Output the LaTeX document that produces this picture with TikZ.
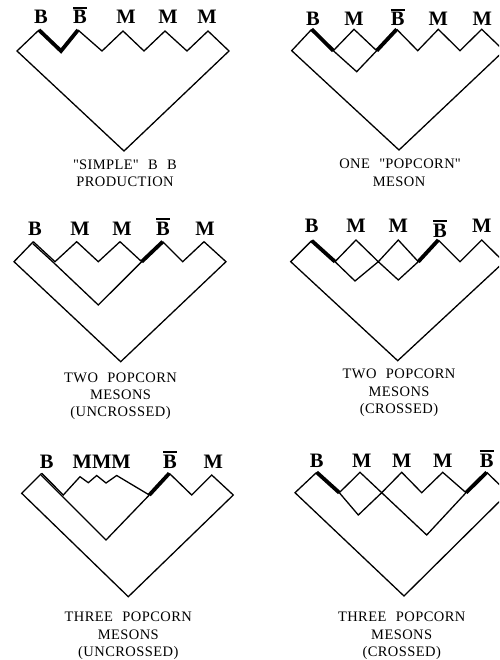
\documentclass[tikz,border=0pt]{standalone}
\usepackage{fontspec}
\setmainfont{Liberation Serif}
% B with an overbar (antibaryon)
\newcommand\barB{\vbox{\hrule height 1.7pt\kern 1.6pt\hbox{B}}}
% wide word gap used in the captions
\newcommand\wsp{\hspace{0.65em}}
% straight double quote, set as a glyph so no ligature mapping applies
\newcommand\sq{\XeTeXglyph\XeTeXglyphindex "quotedbl"\relax}
\begin{document}
\begin{tikzpicture}[x=1pt,y=-1pt,
  quark/.style={line width=1.3pt,line join=miter},
  baryon/.style={line width=3.8pt,line join=miter},
  hadron/.style={font=\fontsize{20.5}{20}\selectfont\bfseries,inner sep=0pt,anchor=base},
  caption/.style={font=\fontsize{14.5}{17}\selectfont\addfontfeature{LetterSpace=3},inner sep=0pt,anchor=base}]
\useasboundingbox (0,0) rectangle (499,660);
\begin{scope}
\clip (0,0) rectangle (499,660);

% ---------- "simple" B Bbar production ----------
\coordinate (p1L) at (17,51);
\coordinate (p1P1) at (39,30);
\coordinate (p1V1) at (61,51);
\coordinate (p1P2) at (78,30);
\coordinate (p1V2) at (102,51);
\coordinate (p1P3) at (123,31);
\coordinate (p1V3) at (144,51);
\coordinate (p1P4) at (165,31);
\coordinate (p1V4) at (187,51);
\coordinate (p1P5) at (208,31);
\coordinate (p1R) at (229,51);
\coordinate (p1Bot) at (124,151);
\draw[quark] (p1P2) -- (p1V2) -- (p1P3) -- (p1V3) -- (p1P4) -- (p1V4) -- (p1P5) -- (p1R) -- (p1Bot) -- (p1L) -- (p1P1);
\draw[baryon] (p1P1) -- (p1V1) -- (p1P2);
\node[hadron] (p1b) at (41,24) {B};
\node[hadron] (p1bb) at (80,24) {\barB};
\node[hadron] (p1m1) at (126,24) {M};
\node[hadron] (p1m2) at (168,24) {M};
\node[hadron] (p1m3) at (207,24) {M};
\node[caption] (c1a) at (125,169.5) {\sq SIMPLE\sq\wsp B\wsp B};
\node[caption] (c1b) at (125,186) {PRODUCTION};

% ---------- one popcorn meson ----------
\coordinate (p2L) at (291.7,50.7);
\coordinate (p2P1) at (311.7,29.3);
\coordinate (p2A) at (333.3,50.7);
\coordinate (p2P2) at (354,29.3);
\coordinate (p2C) at (376.7,50.7);
\coordinate (p2D) at (356.7,71.7);
\coordinate (p2P3) at (396.7,29.3);
\coordinate (p2V3) at (417.7,50.7);
\coordinate (p2P4) at (438.3,29.3);
\coordinate (p2V4) at (460,50.7);
\coordinate (p2P5) at (481.7,29.3);
\coordinate (p2R) at (504,50.7);
\coordinate (p2Bot) at (399,150);
\draw[quark] (p2P1) -- (p2L) -- (p2Bot) -- (p2R) -- (p2P5) -- (p2V4) -- (p2P4) -- (p2V3) -- (p2P3);
\draw[quark] (p2A) -- (p2P2) -- (p2C) -- (p2D) -- cycle;
\draw[baryon] (p2P1) -- (p2A);
\draw[baryon] (p2C) -- (p2P3);
\node[hadron] (p2b) at (313,26) {B};
\node[hadron] (p2m1) at (354,26) {M};
\node[hadron] (p2bb) at (397.7,26) {\barB};
\node[hadron] (p2m2) at (438.3,26) {M};
\node[hadron] (p2m3) at (482.3,26) {M};
\node[caption] (c2a) at (400,168.5) {ONE\wsp\sq POPCORN\sq};
\node[caption] (c2b) at (399,186.5) {MESON};

% ---------- two popcorn mesons, uncrossed ----------
\coordinate (p3L) at (14,261.7);
\coordinate (p3P1) at (33.3,241.7);
\coordinate (p3V1) at (55,261.7);
\coordinate (p3P2) at (76.7,241.7);
\coordinate (p3V2) at (98.3,261.7);
\coordinate (p3P3) at (120,241.7);
\coordinate (p3V3) at (141.7,261.7);
\coordinate (p3P4) at (162.7,241.7);
\coordinate (p3V4) at (182.7,261.7);
\coordinate (p3P5) at (204,241.7);
\coordinate (p3R) at (226,261.7);
\coordinate (p3IB) at (98.3,305);
\coordinate (p3Bot) at (120.7,361.7);
\draw[quark] (p3P1) -- (p3L) -- (p3Bot) -- (p3R) -- (p3P5) -- (p3V4) -- (p3P4);
\draw[quark] (p3P1) -- (p3V1) -- (p3P2) -- (p3V2) -- (p3P3) -- (p3V3);
\draw[quark] ([shift={(-0.6,1.8)}]p3P1) -- ([shift={(-1,1.3)}]p3V1) -- (p3IB) -- (p3V3);
\draw[baryon] (p3V3) -- (p3P4);
\node[hadron] (p3b) at (35,235) {B};
\node[hadron] (p3m1) at (80,235) {M};
\node[hadron] (p3m2) at (122,235) {M};
\node[hadron] (p3bb) at (163,235) {\barB};
\node[hadron] (p3m3) at (205,235) {M};
\node[caption] (c3a) at (120.5,382) {TWO\wsp POPCORN};
\node[caption] (c3b) at (120.5,399.5) {MESONS};
\node[caption] (c3c) at (120.5,416) {(UNCROSSED)};

% ---------- two popcorn mesons, crossed ----------
\coordinate (p4L) at (290.7,261.7);
\coordinate (p4P1) at (311.7,240.7);
\coordinate (p4A) at (335,261.7);
\coordinate (p4P2) at (356,240);
\coordinate (p4C) at (378.3,261.7);
\coordinate (p4D1) at (355,281);
\coordinate (p4P3) at (398.3,240);
\coordinate (p4E) at (418.3,261.7);
\coordinate (p4D2) at (398.3,280);
\coordinate (p4P4) at (438.3,240);
\coordinate (p4V4) at (460,261.7);
\coordinate (p4P5) at (481.7,240);
\coordinate (p4R) at (504,262);
\coordinate (p4Bot) at (397.7,360.7);
\draw[quark] (p4P1) -- (p4L) -- (p4Bot) -- (p4R) -- (p4P5) -- (p4V4) -- (p4P4);
\draw[quark] (p4A) -- (p4P2) -- (p4C) -- (p4P3) -- (p4E) -- (p4D2) -- (p4C) -- (p4D1) -- cycle;
\draw[baryon] (p4P1) -- (p4A);
\draw[baryon] (p4E) -- (p4P4);
\node[hadron] (p4b) at (311.7,233) {B};
\node[hadron] (p4m1) at (356,233) {M};
\node[hadron] (p4m2) at (398.3,233) {M};
\node[hadron] (p4bb) at (440,237) {\barB};
\node[hadron] (p4m3) at (481.7,233) {M};
\node[caption] (c4a) at (399,378.5) {TWO\wsp POPCORN};
\node[caption] (c4b) at (399,396) {MESONS};
\node[caption] (c4c) at (399,413) {(CROSSED)};

% ---------- three popcorn mesons, uncrossed ----------
\coordinate (p5L) at (21.7,493.3);
\coordinate (p5P1) at (41.7,473.3);
\coordinate (p5V1) at (63.3,495);
\coordinate (p5Q1) at (80,476.7);
\coordinate (p5Q2) at (88.3,482.7);
\coordinate (p5Q3) at (96.7,475.5);
\coordinate (p5Q4) at (106,483);
\coordinate (p5Q5) at (116.7,475.5);
\coordinate (p5V2) at (149.3,495);
\coordinate (p5P2) at (169.3,473.3);
\coordinate (p5V3) at (191.7,495);
\coordinate (p5P3) at (211.7,475);
\coordinate (p5R) at (233.3,495);
\coordinate (p5IB) at (106,540);
\coordinate (p5Bot) at (128.3,596.7);
\draw[quark] (p5P1) -- (p5L) -- (p5Bot) -- (p5R) -- (p5P3) -- (p5V3) -- (p5P2);
\draw[quark] (p5P1) -- (p5V1) -- (p5Q1) -- (p5Q2) -- (p5Q3) -- (p5Q4) -- (p5Q5) -- (p5V2);
\draw[quark] ([shift={(-0.6,1.8)}]p5P1) -- ([shift={(-1,1.3)}]p5V1) -- (p5IB) -- (p5V2);
\draw[baryon] (p5V2) -- (p5P2);
\node[hadron] (p5b) at (46.7,468) {B};
\node[hadron] (p5m) at (101.7,468) {MMM};
\node[hadron] (p5bb) at (170,468) {\barB};
\node[hadron] (p5m3) at (213.3,468) {M};
\node[caption] (c5a) at (128.3,621) {THREE\wsp POPCORN};
\node[caption] (c5b) at (128.3,639.5) {MESONS};
\node[caption] (c5c) at (128.3,656) {(UNCROSSED)};

% ---------- three popcorn mesons, crossed ----------
\coordinate (p6L) at (295,492.7);
\coordinate (p6P1) at (316.7,472.3);
\coordinate (p6A) at (339.3,492.7);
\coordinate (p6P2) at (360,472.3);
\coordinate (p6C) at (381.7,492.7);
\coordinate (p6D) at (358.3,515);
\coordinate (p6P3) at (401.7,472.3);
\coordinate (p6V3) at (421.7,492.7);
\coordinate (p6P4) at (442.7,472.3);
\coordinate (p6V4) at (466,492.7);
\coordinate (p6P5) at (486.7,472.3);
\coordinate (p6R) at (508,493);
\coordinate (p6IB) at (426.7,535);
\coordinate (p6Bot) at (404,596);
\draw[quark] (p6P1) -- (p6L) -- (p6Bot) -- (p6R) -- (p6P5);
\draw[quark] (p6A) -- (p6P2) -- (p6C) -- (p6P3) -- (p6V3) -- (p6P4) -- (p6V4);
\draw[quark] (p6A) -- (p6D) -- (p6C) -- (p6IB) -- (p6V4);
\draw[baryon] (p6P1) -- (p6A);
\draw[baryon] (p6V4) -- (p6P5);
\node[hadron] (p6b) at (316.7,467) {B};
\node[hadron] (p6m1) at (361.7,467) {M};
\node[hadron] (p6m2) at (401.7,467) {M};
\node[hadron] (p6m3) at (442.7,467) {M};
\node[hadron] (p6bb) at (486.7,467) {\barB};
\node[caption] (c6a) at (401.7,621) {THREE\wsp POPCORN};
\node[caption] (c6b) at (401.7,639) {MESONS};
\node[caption] (c6c) at (401.7,656) {(CROSSED)};
\end{scope}
\end{tikzpicture}
\end{document}
